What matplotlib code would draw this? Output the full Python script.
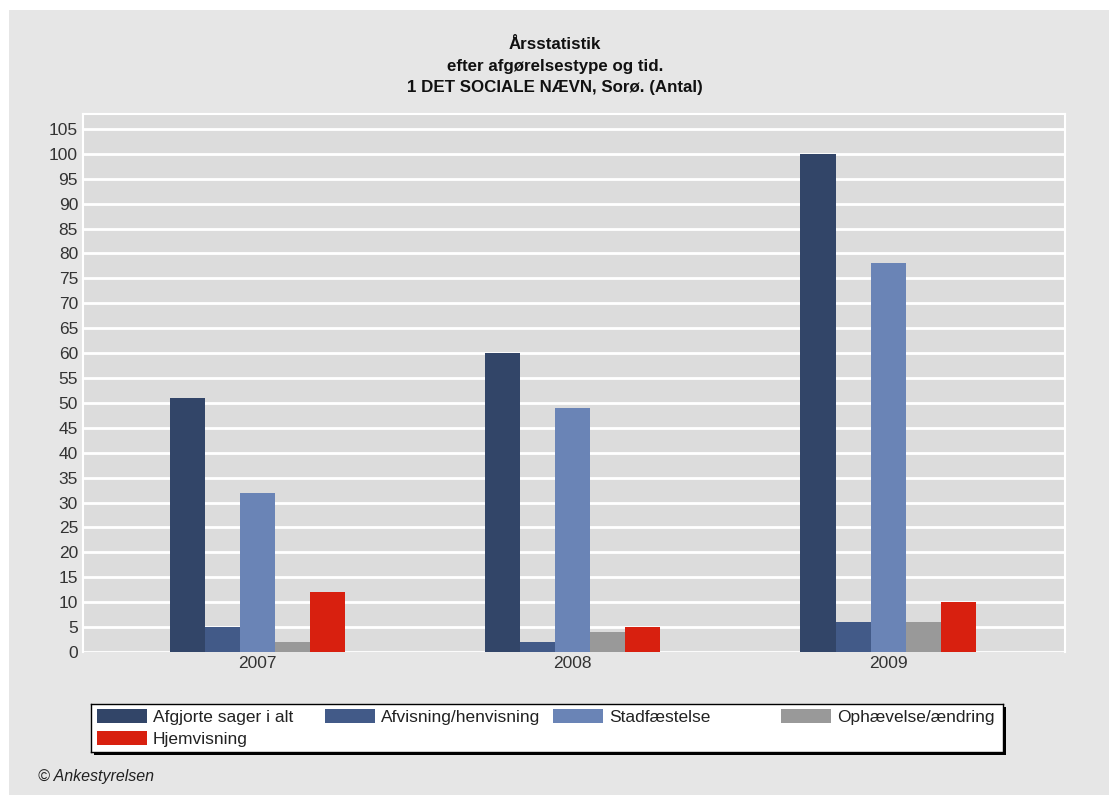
import matplotlib
matplotlib.use("Agg")
import matplotlib.pyplot as plt
from matplotlib.patches import Rectangle
import numpy as np

plt.rcParams['font.family'] = ['Liberation Sans', 'DejaVu Sans']

# data
years = ['2007', '2008', '2009']
series_names = ['Afgjorte sager i alt', 'Afvisning/henvisning', 'Stadfæstelse',
                'Ophævelse/ændring', 'Hjemvisning']
afgjorte = [51, 60, 100]
afvisning = [5, 2, 6]
stadfaestelse = [32, 49, 78]
ophaevelse = [2, 4, 6]
hjemvisning = [12, 5, 10]
colors = ['#324568', '#425a88', '#6a84b6', '#999999', '#d8200f']

W, H = 1109, 795
fig = plt.figure(figsize=(W / 100, H / 100), dpi=100, facecolor='#e6e6e6')

# white margins at top and left like the screenshot
fig.patches.append(Rectangle((0, 1 - 10 / H), 1, 10 / H, transform=fig.transFigure,
                             facecolor='white', edgecolor='none', zorder=-1))
fig.patches.append(Rectangle((0, 0), 9 / W, 1, transform=fig.transFigure,
                             facecolor='white', edgecolor='none', zorder=-1))

left, right, top, bottom = 83, 1065, 114, 652
ax = fig.add_axes([left / W, 1 - bottom / H, (right - left) / W, (bottom - top) / H])
ax.set_facecolor('#dcdcdc')

values = [afgjorte, afvisning, stadfaestelse, ophaevelse, hjemvisning]
x = np.arange(len(years))
bw = 0.111
for i, (vals, name) in enumerate(zip(values, series_names)):
    ax.bar(x + (i - 2) * bw, vals, width=bw, color=colors[i], label=name,
           zorder=3, linewidth=0)

ax.set_xlim(-0.552, 2.561)
ax.set_ylim(0, 108)
ax.set_yticks(np.arange(0, 106, 5))
ax.set_xticks(x)
ax.set_xticklabels(years)
ax.yaxis.grid(True, color='white', linewidth=2, zorder=1)
ax.set_axisbelow(True)
ax.tick_params(length=0, labelsize=12.5, labelcolor='#333333')
ax.tick_params(axis='y', pad=3.6)
ax.tick_params(axis='x', pad=3)
for s in ax.spines.values():
    s.set_color('white')
    s.set_linewidth(1.5)
ax.spines['bottom'].set_visible(False)

fig.text(555 / W, 1 - 66 / H, 'Årsstatistik\nefter afgørelsestype og tid.\n1 DET SOCIALE NÆVN, Sorø. (Antal)',
         ha='center', va='center', fontsize=12.2, fontweight='bold', color='#111111', linespacing=1.58)

# legend box drawn by hand so the four columns get equal widths like the original
lx0, lx1, ly0, ly1 = 91, 1003, 704, 752
fig.patches.append(Rectangle(((lx0 + 3) / W, 1 - (ly1 + 3) / H), (lx1 - lx0) / W, (ly1 - ly0) / H,
                             transform=fig.transFigure, facecolor='black', edgecolor='none',
                             zorder=-0.5))
lax = fig.add_axes([lx0 / W, 1 - ly1 / H, (lx1 - lx0) / W, (ly1 - ly0) / H])
lax.set_zorder(1)
lax.set_facecolor('white')
lax.set_xlim(0, lx1 - lx0)
lax.set_ylim(ly1 - ly0, 0)
lax.set_xticks([])
lax.set_yticks([])
for s in lax.spines.values():
    s.set_color('black')
    s.set_linewidth(1)
col_w = (lx1 - lx0) / 4
for k, name in enumerate(series_names):
    col, row = k % 4, k // 4
    cx = 6 + col * col_w
    cy = 12 + row * 22
    lax.add_patch(Rectangle((cx, cy - 7), 50, 14, facecolor=colors[k], edgecolor='none'))
    lax.text(cx + 56, cy, name, fontsize=12.5, color='#222222', va='center_baseline', ha='left')

fig.text(38 / W, 1 - 776 / H, '© Ankestyrelsen', fontsize=11.5, style='italic',
         ha='left', va='center', color='#222222')

fig.savefig('out.png', dpi=100, facecolor=fig.get_facecolor())
